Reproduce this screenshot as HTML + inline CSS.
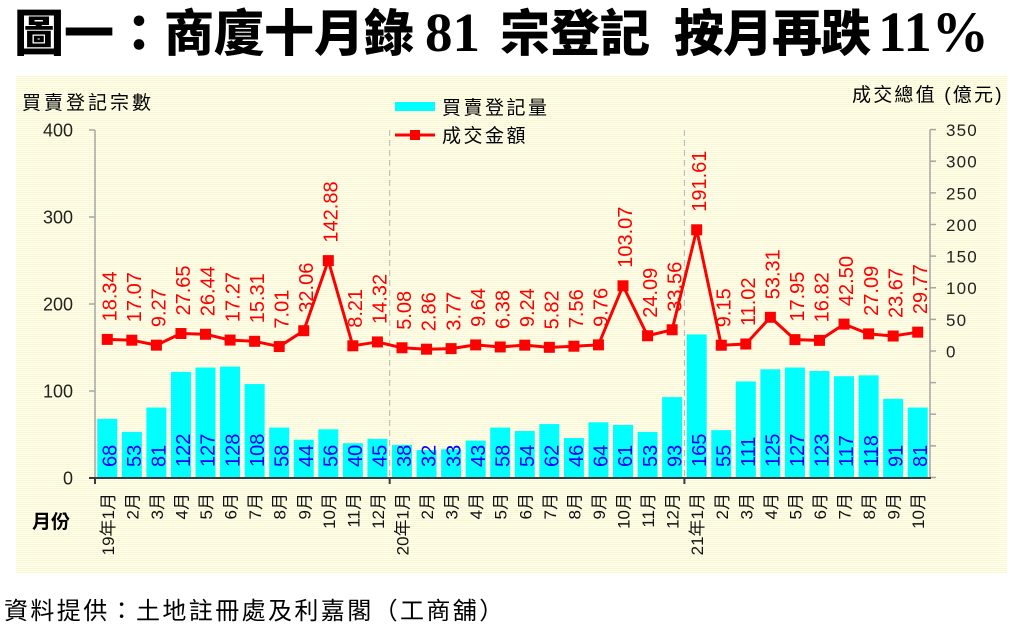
<!DOCTYPE html>
<html><head><meta charset="utf-8"><style>
html,body{margin:0;padding:0;background:#fff;}
svg{display:block;}
.cjk{font-family:"Liberation Sans","Noto Sans CJK TC",sans-serif;}
.num{font-family:"Liberation Sans","Noto Sans CJK TC",sans-serif;}
</style></head><body>
<svg width="1020" height="629" xmlns="http://www.w3.org/2000/svg">
<defs><pattern id="st" width="4" height="2" patternUnits="userSpaceOnUse"><rect width="4" height="2" fill="#fffff4"/><rect width="4" height="1" fill="#faf7ce"/></pattern></defs>
<!-- Title -->
<g fill="#000">
<text class="cjk" x="14" y="51" font-size="50" font-weight="900">圖一：商廈十月錄</text>
<text x="425" y="51" font-size="55" font-weight="bold" font-family="'Liberation Serif',serif">81</text>
<text class="cjk" x="500" y="51" font-size="50" font-weight="900">宗登記</text>
<text class="cjk" x="674" y="51" font-size="50" font-weight="900" letter-spacing="-1">按月再跌</text>
<text x="878" y="51" font-size="57" font-weight="bold" font-family="'Liberation Serif',serif">11%</text>
</g>
<rect x="16" y="75" width="991" height="498" fill="url(#st)"/>
<!-- axis titles / legend -->
<g class="cjk" font-size="19" fill="#000" letter-spacing="2.5">
<text x="22" y="109" letter-spacing="3">買賣登記宗數</text>
<text x="442" y="114">買賣登記量</text>
<text x="442" y="142">成交金額</text>
<text x="852" y="101" letter-spacing="2.2">成交總值 (億元)</text>
</g>
<text class="cjk" x="32" y="528" font-size="19" font-weight="bold">月份</text>
<rect x="395" y="102" width="40" height="9" fill="#00ffff"/>
<line x1="395" y1="135" x2="435" y2="135" stroke="#ff0000" stroke-width="3"/>
<rect x="410" y="130" width="10" height="10" fill="#ff0000"/>
<!-- dashed year separators -->
<g stroke="#b4b4b4" stroke-width="1" stroke-dasharray="6 4">
<line x1="389.7" y1="130" x2="389.7" y2="477"/>
<line x1="684.4" y1="130" x2="684.4" y2="477"/>
</g>
<!-- bars -->
<g fill="#00ffff">
<rect x="97.28" y="418.84" width="20" height="59.16"/>
<rect x="121.84" y="431.89" width="20" height="46.11"/>
<rect x="146.40" y="407.53" width="20" height="70.47"/>
<rect x="170.96" y="371.86" width="20" height="106.14"/>
<rect x="195.51" y="367.51" width="20" height="110.49"/>
<rect x="220.07" y="366.64" width="20" height="111.36"/>
<rect x="244.63" y="384.04" width="20" height="93.96"/>
<rect x="269.19" y="427.54" width="20" height="50.46"/>
<rect x="293.75" y="439.72" width="20" height="38.28"/>
<rect x="318.31" y="429.28" width="20" height="48.72"/>
<rect x="342.87" y="443.2" width="20" height="34.8"/>
<rect x="367.43" y="438.85" width="20" height="39.15"/>
<rect x="391.99" y="444.94" width="20" height="33.06"/>
<rect x="416.54" y="450.16" width="20" height="27.84"/>
<rect x="441.10" y="449.29" width="20" height="28.71"/>
<rect x="465.66" y="440.59" width="20" height="37.41"/>
<rect x="490.22" y="427.54" width="20" height="50.46"/>
<rect x="514.78" y="431.02" width="20" height="46.98"/>
<rect x="539.34" y="424.06" width="20" height="53.94"/>
<rect x="563.90" y="437.98" width="20" height="40.02"/>
<rect x="588.46" y="422.32" width="20" height="55.68"/>
<rect x="613.01" y="424.93" width="20" height="53.07"/>
<rect x="637.57" y="431.89" width="20" height="46.11"/>
<rect x="662.13" y="397.09" width="20" height="80.91"/>
<rect x="686.69" y="334.45" width="20" height="143.55"/>
<rect x="711.25" y="430.15" width="20" height="47.85"/>
<rect x="735.81" y="381.43" width="20" height="96.57"/>
<rect x="760.37" y="369.25" width="20" height="108.75"/>
<rect x="784.93" y="367.51" width="20" height="110.49"/>
<rect x="809.49" y="370.99" width="20" height="107.01"/>
<rect x="834.04" y="376.21" width="20" height="101.79"/>
<rect x="858.60" y="375.34" width="20" height="102.66"/>
<rect x="883.16" y="398.83" width="20" height="79.17"/>
<rect x="907.72" y="407.53" width="20" height="70.47"/>
</g>
<!-- axes -->
<g stroke="#a6a6a6" stroke-width="1.5">
<line x1="95" y1="130" x2="95" y2="478"/>
<line x1="89" y1="130" x2="95" y2="130"/>
<line x1="89" y1="217" x2="95" y2="217"/>
<line x1="89" y1="304" x2="95" y2="304"/>
<line x1="89" y1="391" x2="95" y2="391"/>
<line x1="930" y1="129.6" x2="930" y2="478"/>
<line x1="930" y1="129.59" x2="936" y2="129.59"/>
<line x1="930" y1="161.22" x2="936" y2="161.22"/>
<line x1="930" y1="192.85" x2="936" y2="192.85"/>
<line x1="930" y1="224.48" x2="936" y2="224.48"/>
<line x1="930" y1="256.11" x2="936" y2="256.11"/>
<line x1="930" y1="287.74" x2="936" y2="287.74"/>
<line x1="930" y1="319.37" x2="936" y2="319.37"/>
<line x1="930" y1="351" x2="936" y2="351"/>
<line x1="930" y1="382.63" x2="936" y2="382.63"/>
<line x1="930" y1="414.26" x2="936" y2="414.26"/>
<line x1="930" y1="445.89" x2="936" y2="445.89"/>
<line x1="930" y1="477.5" x2="936" y2="477.5"/>
</g>
<g stroke="#3a3a3a" stroke-width="2">
<line x1="89" y1="478" x2="931" y2="478"/>
<line x1="95" y1="478" x2="95" y2="484"/>
<line x1="389.7" y1="478" x2="389.7" y2="484"/>
<line x1="684.4" y1="478" x2="684.4" y2="484"/>
</g>
<!-- axis labels -->
<g class="num" font-size="18" fill="#222" text-anchor="end">
<text x="73" y="136.5">400</text>
<text x="73" y="223.5">300</text>
<text x="73" y="310.5">200</text>
<text x="73" y="397.5">100</text>
<text x="73" y="484.5">0</text>
</g>
<g class="num" font-size="17" fill="#222" letter-spacing="1.2">
<text x="946" y="136.1">350</text>
<text x="946" y="167.7">300</text>
<text x="946" y="199.4">250</text>
<text x="946" y="231">200</text>
<text x="946" y="262.6">150</text>
<text x="946" y="294.2">100</text>
<text x="946" y="325.9">50</text>
<text x="946" y="357.5">0</text>
</g>
<!-- line series -->
<polyline fill="none" stroke="#ff0000" stroke-width="3" stroke-linejoin="round" points="107.28,339.40 131.84,340.20 156.40,345.14 180.96,333.51 205.51,334.27 230.07,340.07 254.63,341.31 279.19,346.57 303.75,330.72 328.31,260.61 352.87,345.81 377.43,341.94 401.99,347.79 426.54,349.19 451.10,348.62 475.66,344.90 500.22,346.96 524.78,345.15 549.34,347.32 573.90,346.22 598.46,344.83 623.01,285.80 647.57,335.76 672.13,329.77 696.69,229.79 721.25,345.21 745.81,344.03 770.37,317.28 794.93,339.64 819.49,340.36 844.04,324.11 868.60,333.86 893.16,336.03 917.72,332.17"/>
<g fill="#ff0000">
<rect x="101.78" y="333.90" width="11" height="11"/>
<rect x="126.34" y="334.70" width="11" height="11"/>
<rect x="150.90" y="339.64" width="11" height="11"/>
<rect x="175.46" y="328.01" width="11" height="11"/>
<rect x="200.01" y="328.77" width="11" height="11"/>
<rect x="224.57" y="334.57" width="11" height="11"/>
<rect x="249.13" y="335.81" width="11" height="11"/>
<rect x="273.69" y="341.07" width="11" height="11"/>
<rect x="298.25" y="325.22" width="11" height="11"/>
<rect x="322.81" y="255.11" width="11" height="11"/>
<rect x="347.37" y="340.31" width="11" height="11"/>
<rect x="371.93" y="336.44" width="11" height="11"/>
<rect x="396.49" y="342.29" width="11" height="11"/>
<rect x="421.04" y="343.69" width="11" height="11"/>
<rect x="445.60" y="343.12" width="11" height="11"/>
<rect x="470.16" y="339.40" width="11" height="11"/>
<rect x="494.72" y="341.46" width="11" height="11"/>
<rect x="519.28" y="339.65" width="11" height="11"/>
<rect x="543.84" y="341.82" width="11" height="11"/>
<rect x="568.40" y="340.72" width="11" height="11"/>
<rect x="592.96" y="339.33" width="11" height="11"/>
<rect x="617.51" y="280.30" width="11" height="11"/>
<rect x="642.07" y="330.26" width="11" height="11"/>
<rect x="666.63" y="324.27" width="11" height="11"/>
<rect x="691.19" y="224.29" width="11" height="11"/>
<rect x="715.75" y="339.71" width="11" height="11"/>
<rect x="740.31" y="338.53" width="11" height="11"/>
<rect x="764.87" y="311.78" width="11" height="11"/>
<rect x="789.43" y="334.14" width="11" height="11"/>
<rect x="813.99" y="334.86" width="11" height="11"/>
<rect x="838.54" y="318.61" width="11" height="11"/>
<rect x="863.10" y="328.36" width="11" height="11"/>
<rect x="887.66" y="330.53" width="11" height="11"/>
<rect x="912.22" y="326.67" width="11" height="11"/>
</g>
<!-- line labels -->
<g class="num" font-size="20" fill="#ff0000">
<text transform="translate(116.48,321.40) rotate(-90)">18.34</text>
<text transform="translate(141.04,322.20) rotate(-90)">17.07</text>
<text transform="translate(165.60,327.14) rotate(-90)">9.27</text>
<text transform="translate(190.16,315.51) rotate(-90)">27.65</text>
<text transform="translate(214.71,316.27) rotate(-90)">26.44</text>
<text transform="translate(239.27,322.07) rotate(-90)">17.27</text>
<text transform="translate(263.83,323.31) rotate(-90)">15.31</text>
<text transform="translate(288.39,328.57) rotate(-90)">7.01</text>
<text transform="translate(312.95,312.72) rotate(-90)">32.06</text>
<text transform="translate(337.51,242.61) rotate(-90)">142.88</text>
<text transform="translate(362.07,327.81) rotate(-90)">8.21</text>
<text transform="translate(386.63,323.94) rotate(-90)">14.32</text>
<text transform="translate(411.19,329.79) rotate(-90)">5.08</text>
<text transform="translate(435.74,331.19) rotate(-90)">2.86</text>
<text transform="translate(460.30,330.62) rotate(-90)">3.77</text>
<text transform="translate(484.86,326.90) rotate(-90)">9.64</text>
<text transform="translate(509.42,328.96) rotate(-90)">6.38</text>
<text transform="translate(533.98,327.15) rotate(-90)">9.24</text>
<text transform="translate(558.54,329.32) rotate(-90)">5.82</text>
<text transform="translate(583.10,328.22) rotate(-90)">7.56</text>
<text transform="translate(607.66,326.83) rotate(-90)">9.76</text>
<text transform="translate(632.21,267.80) rotate(-90)">103.07</text>
<text transform="translate(656.77,317.76) rotate(-90)">24.09</text>
<text transform="translate(681.33,311.77) rotate(-90)">33.56</text>
<text transform="translate(705.89,211.79) rotate(-90)">191.61</text>
<text transform="translate(730.45,327.21) rotate(-90)">9.15</text>
<text transform="translate(755.01,326.03) rotate(-90)">11.02</text>
<text transform="translate(779.57,299.28) rotate(-90)">53.31</text>
<text transform="translate(804.13,321.64) rotate(-90)">17.95</text>
<text transform="translate(828.69,322.36) rotate(-90)">16.82</text>
<text transform="translate(853.24,306.11) rotate(-90)">42.50</text>
<text transform="translate(877.80,315.86) rotate(-90)">27.09</text>
<text transform="translate(902.36,318.03) rotate(-90)">23.67</text>
<text transform="translate(926.92,314.17) rotate(-90)">29.77</text>
</g>
<!-- bar labels -->
<g class="num" font-size="20" fill="#0000ff">
<text transform="translate(116.48,467) rotate(-90)">68</text>
<text transform="translate(141.04,467) rotate(-90)">53</text>
<text transform="translate(165.60,467) rotate(-90)">81</text>
<text transform="translate(190.16,467) rotate(-90)">122</text>
<text transform="translate(214.71,467) rotate(-90)">127</text>
<text transform="translate(239.27,467) rotate(-90)">128</text>
<text transform="translate(263.83,467) rotate(-90)">108</text>
<text transform="translate(288.39,467) rotate(-90)">58</text>
<text transform="translate(312.95,467) rotate(-90)">44</text>
<text transform="translate(337.51,467) rotate(-90)">56</text>
<text transform="translate(362.07,467) rotate(-90)">40</text>
<text transform="translate(386.63,467) rotate(-90)">45</text>
<text transform="translate(411.19,467) rotate(-90)">38</text>
<text transform="translate(435.74,467) rotate(-90)">32</text>
<text transform="translate(460.30,467) rotate(-90)">33</text>
<text transform="translate(484.86,467) rotate(-90)">43</text>
<text transform="translate(509.42,467) rotate(-90)">58</text>
<text transform="translate(533.98,467) rotate(-90)">54</text>
<text transform="translate(558.54,467) rotate(-90)">62</text>
<text transform="translate(583.10,467) rotate(-90)">46</text>
<text transform="translate(607.66,467) rotate(-90)">64</text>
<text transform="translate(632.21,467) rotate(-90)">61</text>
<text transform="translate(656.77,467) rotate(-90)">53</text>
<text transform="translate(681.33,467) rotate(-90)">93</text>
<text transform="translate(705.89,467) rotate(-90)">165</text>
<text transform="translate(730.45,467) rotate(-90)">55</text>
<text transform="translate(755.01,467) rotate(-90)">111</text>
<text transform="translate(779.57,467) rotate(-90)">125</text>
<text transform="translate(804.13,467) rotate(-90)">127</text>
<text transform="translate(828.69,467) rotate(-90)">123</text>
<text transform="translate(853.24,467) rotate(-90)">117</text>
<text transform="translate(877.80,467) rotate(-90)">118</text>
<text transform="translate(902.36,467) rotate(-90)">91</text>
<text transform="translate(926.92,467) rotate(-90)">81</text>
</g>
<!-- x labels -->
<g class="cjk" font-size="17" fill="#111" text-anchor="end">
<text transform="translate(113.78,493) rotate(-90)">19年1月</text>
<text transform="translate(138.34,493) rotate(-90)">2月</text>
<text transform="translate(162.90,493) rotate(-90)">3月</text>
<text transform="translate(187.46,493) rotate(-90)">4月</text>
<text transform="translate(212.01,493) rotate(-90)">5月</text>
<text transform="translate(236.57,493) rotate(-90)">6月</text>
<text transform="translate(261.13,493) rotate(-90)">7月</text>
<text transform="translate(285.69,493) rotate(-90)">8月</text>
<text transform="translate(310.25,493) rotate(-90)">9月</text>
<text transform="translate(334.81,493) rotate(-90)">10月</text>
<text transform="translate(359.37,493) rotate(-90)">11月</text>
<text transform="translate(383.93,493) rotate(-90)">12月</text>
<text transform="translate(408.49,493) rotate(-90)">20年1月</text>
<text transform="translate(433.04,493) rotate(-90)">2月</text>
<text transform="translate(457.60,493) rotate(-90)">3月</text>
<text transform="translate(482.16,493) rotate(-90)">4月</text>
<text transform="translate(506.72,493) rotate(-90)">5月</text>
<text transform="translate(531.28,493) rotate(-90)">6月</text>
<text transform="translate(555.84,493) rotate(-90)">7月</text>
<text transform="translate(580.40,493) rotate(-90)">8月</text>
<text transform="translate(604.96,493) rotate(-90)">9月</text>
<text transform="translate(629.51,493) rotate(-90)">10月</text>
<text transform="translate(654.07,493) rotate(-90)">11月</text>
<text transform="translate(678.63,493) rotate(-90)">12月</text>
<text transform="translate(703.19,493) rotate(-90)">21年1月</text>
<text transform="translate(727.75,493) rotate(-90)">2月</text>
<text transform="translate(752.31,493) rotate(-90)">3月</text>
<text transform="translate(776.87,493) rotate(-90)">4月</text>
<text transform="translate(801.43,493) rotate(-90)">5月</text>
<text transform="translate(825.99,493) rotate(-90)">6月</text>
<text transform="translate(850.54,493) rotate(-90)">7月</text>
<text transform="translate(875.10,493) rotate(-90)">8月</text>
<text transform="translate(899.66,493) rotate(-90)">9月</text>
<text transform="translate(924.22,493) rotate(-90)">10月</text>
</g>
<!-- footer -->
<text class="cjk" x="4" y="619" font-size="24" fill="#000" letter-spacing="2.4">資料提供：土地註冊處及利嘉閣（工商舖）</text>
</svg>
</body></html>
